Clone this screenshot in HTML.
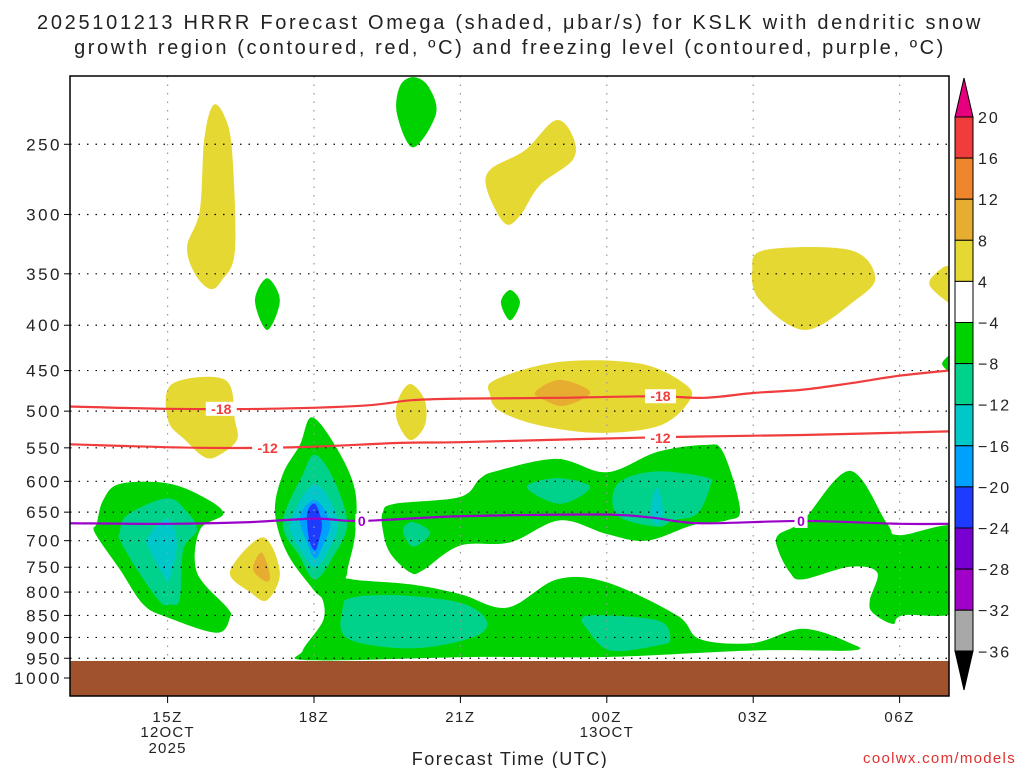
<!DOCTYPE html>
<html><head><meta charset="utf-8"><style>
body{margin:0;background:#fff;width:1024px;height:768px;overflow:hidden;font-family:"Liberation Sans",sans-serif}
svg{display:block}
</style></head><body>
<svg id="chart" width="1024" height="768" font-family="Liberation Sans, sans-serif">
<text x="510" y="29" text-anchor="middle" font-size="20" fill="#222" letter-spacing="2.7">2025101213 HRRR Forecast Omega (shaded, μbar/s) for KSLK with dendritic snow</text>
<text x="510" y="54" text-anchor="middle" font-size="20" fill="#222" letter-spacing="2.6">growth region (contoured, red, ºC) and freezing level (contoured, purple, ºC)</text>
<defs><clipPath id="plotclip"><rect x="70" y="76" width="879" height="620"/></clipPath></defs>
<g id="fills" clip-path="url(#plotclip)"></g>
<g id="grid"></g>
<rect x="70" y="661" width="879" height="35" fill="#a0522d"/>
<g id="lines" clip-path="url(#plotclip)"></g>
<rect x="70" y="76" width="879" height="620" fill="none" stroke="#000" stroke-width="1.5"/>
<g id="axes"></g>
<g id="cbar"></g>
<text x="510" y="765" text-anchor="middle" font-size="18" fill="#222" letter-spacing="1.5">Forecast Time (UTC)</text>
<text x="1016" y="763" text-anchor="end" font-size="15" fill="#e03030" letter-spacing="1.3">coolwx.com/models</text>
</svg>
<script>
// ---- data ----
const pressureTicks=[250,300,350,400,450,500,550,600,650,700,750,800,850,900,950,1000];
const timeTickHours=[2,5,8,11,14,17];
const timeTickLabels=["15Z","18Z","21Z","00Z","03Z","06Z"];
const dateLabels=[[2,"12OCT","2025"],[11,"13OCT",""]];
const cbarLevels=[20,16,12,8,4,-4,-8,-12,-16,-20,-24,-28,-32,-36];
const cbarColors=["#f03c3c","#f0862c","#e6ad30","#e6d832","#ffffff","#00d200","#00d28c","#00c8c8","#00a0ff","#1e3cff","#7800d2","#a000c8","#a8a8a8"];
// shaded regions: [color, [[hour, hPa],...]]
const regions=[
["#e6d832",[[2.93,226],[3.16,232],[3.32,254],[3.38,329],[3.11,356],[2.87,364],[2.56,350],[2.4,326],[2.66,297],[2.75,247]]],
["#00d200",[[4.04,354],[4.3,375],[4.04,405],[3.79,375]]],
["#00d200",[[7.03,210],[7.34,215],[7.5,231],[7.03,252],[6.7,231],[6.76,215]]],
["#e6d832",[[9.94,235],[10.29,244],[10.31,260],[9.63,278],[9.22,301],[8.91,307],[8.55,282],[8.61,267],[9.32,254]]],
["#00d200",[[9.02,365],[9.22,377],[9.02,395],[8.83,377]]],
["#e6d832",[[6.97,466],[7.27,486],[7.27,519],[6.97,539],[6.7,512],[6.72,486]]],
["#e6d832",[[2.09,466],[3.18,461],[3.38,512],[3.42,539],[3.07,560],[2.77,564],[2.36,539],[2.01,512]]],
["#e6d832",[[8.71,461],[10.04,440],[11.68,442],[12.6,466],[12.7,486],[12.09,519],[10.86,529],[9.63,519],[8.81,500],[8.61,480]]],
["#e6ad30",[[9.53,476],[10.04,461],[10.66,476],[10.14,493],[9.73,486]]],
["#e6d832",[[14.24,329],[15.98,329],[16.5,353],[16.09,375],[15.06,405],[14.14,375],[13.98,347]]],
["#e6d832",[[17.73,350],[18.03,344],[18.1,375],[18.0,377],[17.62,361]]],
["#00d200",[[17.87,442],[18.07,432],[18.07,452]]],
["#00d200",[[0.55,669],[0.68,630],[1.02,604],[1.99,603],[2.73,625],[3.14,653],[2.66,681],[2.6,760],[3.22,833],[3.28,854],[3.01,889],[1.99,854],[1.5,826],[1.02,754],[0.51,686]]],
["#00d28c",[[1.02,686],[1.17,655],[1.99,627],[2.4,650],[2.6,681],[2.32,717],[2.25,815],[2.05,826],[1.84,820],[1.37,754],[1.02,698]]],
["#00c8c8",[[1.6,693],[1.99,661],[2.19,703],[2.05,771],[1.95,771],[1.6,711]]],
["#e6d832",[[3.28,758],[3.95,694],[4.3,760],[4.04,817],[3.69,800]]],
["#e6ad30",[[3.75,754],[3.93,722],[4.1,767],[4.0,778]]],
["#00d200",[[4.96,508],[5.47,551],[5.84,614],[5.84,690],[5.68,760],[5.78,774],[6.97,784],[7.99,804],[8.96,833],[9.98,774],[11.0,780],[12.44,850],[12.91,904],[14.0,913],[15.02,880],[15.98,913],[16.02,931],[14.0,931],[11.0,947],[8.3,947],[4.92,955],[4.77,931],[5.18,863],[5.18,817],[4.98,794],[4.45,723],[4.2,650],[4.36,589],[4.71,546]]],
["#00d28c",[[5.59,833],[5.8,811],[6.82,807],[8.05,824],[8.55,866],[8.2,902],[6.97,926],[5.68,902]]],
["#00d28c",[[10.51,854],[11.0,850],[12.09,863],[12.3,904],[12.09,918],[11.07,931],[10.59,880]]],
["#00d28c",[[4.36,669],[4.77,589],[5.02,560],[5.39,595],[5.68,669],[5.39,730],[5.02,774],[4.71,730]]],
["#00c8c8",[[4.51,669],[5.02,605],[5.49,664],[5.27,723],[5.02,750],[4.77,723]]],
["#00a0ff",[[4.71,658],[5.02,630],[5.33,669],[5.16,713],[5.02,733],[4.86,704]]],
["#1e3cff",[[4.86,652],[5.02,636],[5.16,669],[5.1,700],[5.02,718],[4.9,698]]],
["#00d200",[[6.41,650],[6.66,636],[7.99,625],[8.4,596],[8.75,584],[9.98,566],[11.0,586],[12.03,556],[13.01,546],[13.38,556],[13.73,645],[13.46,664],[12.77,672],[11.82,700],[11.0,688],[10.04,664],[9.02,703],[7.99,709],[7.23,756],[6.97,760],[6.56,723],[6.41,681]]],
["#00d28c",[[9.36,609],[9.98,595],[10.66,609],[10.04,636]]],
["#00d28c",[[11.21,605],[11.95,585],[13.05,594],[13.11,609],[12.85,653],[12.36,664],[12.03,675],[11.21,655]]],
["#00c8c8",[[12.03,609],[12.15,650],[12.03,672],[11.89,650]]],
["#00d28c",[[6.82,681],[7.03,667],[7.38,686],[7.03,711]]],
["#00d200",[[14.51,690],[15.02,664],[15.98,584],[16.74,669],[17.0,690],[18.3,679],[18.3,833],[17.07,850],[16.86,869],[16.45,844],[16.39,817],[16.54,760],[15.98,749],[15.02,774],[14.75,760],[14.51,717]]]
];
const redHours18=[0,2,4,6,7,8,10,12,13,14,15,16,17,18];
const redP18=[494,497,497,493,486,484,483,481,483,477,473,465,456,450];
const redHours12=[0,2.66,4.71,6.76,8,10.86,12.91,15.02,18];
const redP12=[545,550,549,543,542,537,534,532,527];
const purpleHours=[0,2.05,3.69,5.02,5.94,7.99,10.86,11.89,12.91,15.02,17,18];
const purpleP=[669,670,667,661,665,657,654,659,669,665,670,670];
const contourLabels=[["-18",3.1,497,"#f03c3c"],["-18",12.1,481,"#f03c3c"],["-12",4.05,550,"#f03c3c"],["-12",12.1,536,"#f03c3c"],["0",5.98,665,"#9b00c8"],["0",14.98,665,"#9b00c8"]];
// ---- scales ----
const X=h=>70+h*48.8;
const Y=p=>678-385*Math.log(1000/p);
const NS="http://www.w3.org/2000/svg";
function mk(t,a,parent){const e=document.createElementNS(NS,t);for(const k in a)e.setAttribute(k,a[k]);parent.appendChild(e);return e;}
function smoothClosed(pts){const n=pts.length;let d=`M${pts[0][0]},${pts[0][1]}`;
 for(let i=0;i<n;i++){const p0=pts[(i-1+n)%n],p1=pts[i],p2=pts[(i+1)%n],p3=pts[(i+2)%n];
 const c1=[p1[0]+(p2[0]-p0[0])/6,p1[1]+(p2[1]-p0[1])/6],c2=[p2[0]-(p3[0]-p1[0])/6,p2[1]-(p3[1]-p1[1])/6];
 d+=`C${c1[0]},${c1[1]} ${c2[0]},${c2[1]} ${p2[0]},${p2[1]}`;}return d+"Z";}
function smoothOpen(pts){let d=`M${pts[0][0]},${pts[0][1]}`;const n=pts.length;
 for(let i=0;i<n-1;i++){const p0=pts[Math.max(i-1,0)],p1=pts[i],p2=pts[i+1],p3=pts[Math.min(i+2,n-1)];
 d+=`C${p1[0]+(p2[0]-p0[0])/6},${p1[1]+(p2[1]-p0[1])/6} ${p2[0]-(p3[0]-p1[0])/6},${p2[1]-(p3[1]-p1[1])/6} ${p2[0]},${p2[1]}`;}return d;}
const fills=document.getElementById('fills');
regions.forEach((r,i)=>{
 const e=mk('path',{d:smoothClosed(r[1].map(q=>[X(q[0]),Y(q[1])])),fill:r[0]},fills);
 
 
});
const grid=document.getElementById('grid');
pressureTicks.slice(0,-1).forEach(p=>{
 const e=mk('line',{x1:70,x2:949,y1:Y(p),y2:Y(p),stroke:'#000','stroke-width':1.2,'stroke-dasharray':'1.5 7'},grid);
 
 
});
timeTickHours.forEach((h,i)=>{
 const e=mk('line',{x1:X(h),x2:X(h),y1:76,y2:661,stroke:'#999','stroke-width':1.2,'stroke-dasharray':'1.5 7'},grid);
 
 
});
const lines=document.getElementById('lines');
function drawLine(hs,ps,color,name){const e=mk('path',{d:smoothOpen(hs.map((h,i)=>[X(h),Y(ps[i])])),fill:'none',stroke:color,'stroke-width':2.2},lines);
 
 }
drawLine(redHours18,redP18,'#f03c3c','dgz-minus18-contour');
drawLine(redHours12,redP12,'#f03c3c','dgz-minus12-contour');
drawLine(purpleHours,purpleP,'#9b00c8','freezing-level-contour');
contourLabels.forEach(c=>{
 const g=mk('g',{},lines);
 
 
 const w=c[0].length*9+4;
 mk('rect',{x:X(c[1])-w/2,y:Y(c[2])-7,width:w,height:14,fill:'#fff'},g);
 mk('text',{x:X(c[1]),y:Y(c[2])+5,'text-anchor':'middle','font-size':14,'font-weight':'bold',fill:c[3]},g).textContent=c[0];
});
const axes=document.getElementById('axes');
pressureTicks.forEach(p=>{
 const t=mk('text',{x:62,y:Y(p)+6,'text-anchor':'end','font-size':17,fill:'#222','letter-spacing':'2.5'},axes);t.textContent=p;
 
 
 mk('line',{x1:64,x2:70,y1:Y(p),y2:Y(p),stroke:'#000'},axes);
});
timeTickHours.forEach((h,i)=>{
 const t=mk('text',{x:X(h),y:722,'text-anchor':'middle','font-size':15,fill:'#222','letter-spacing':'1.5'},axes);t.textContent=timeTickLabels[i];
 
 
 mk('line',{x1:X(h),x2:X(h),y1:696,y2:703,stroke:'#000'},axes);
});
dateLabels.forEach(d=>{
 const a=mk('text',{x:X(d[0]),y:737,'text-anchor':'middle','font-size':15,fill:'#222','letter-spacing':'1.2'},axes);a.textContent=d[1];
 
 
 if(d[2]){const b=mk('text',{x:X(d[0]),y:753,'text-anchor':'middle','font-size':15,fill:'#222','letter-spacing':'1.2'},axes);b.textContent=d[2];
 
 }
});
const cb=document.getElementById('cbar');
const cy=i=>117+i*41.1;
cbarColors.forEach((c,i)=>{
 const e=mk('rect',{x:955,y:cy(i),width:18,height:41.1,fill:c,stroke:'#000','stroke-width':1},cb);
 
 
});
mk('polygon',{points:`955,117 964,78 973,117`,fill:'#e6007e',stroke:'#000'},cb);
mk('polygon',{points:`955,651 964,690 973,651`,fill:'#000',stroke:'#000'},cb);
cbarLevels.forEach((v,i)=>{
 const t=mk('text',{x:978,y:cy(i)+6,'font-size':16,fill:'#222','letter-spacing':'2'},cb);t.textContent=v<0?'−'+(-v):v;
 
 
});
</script>
</body></html>
